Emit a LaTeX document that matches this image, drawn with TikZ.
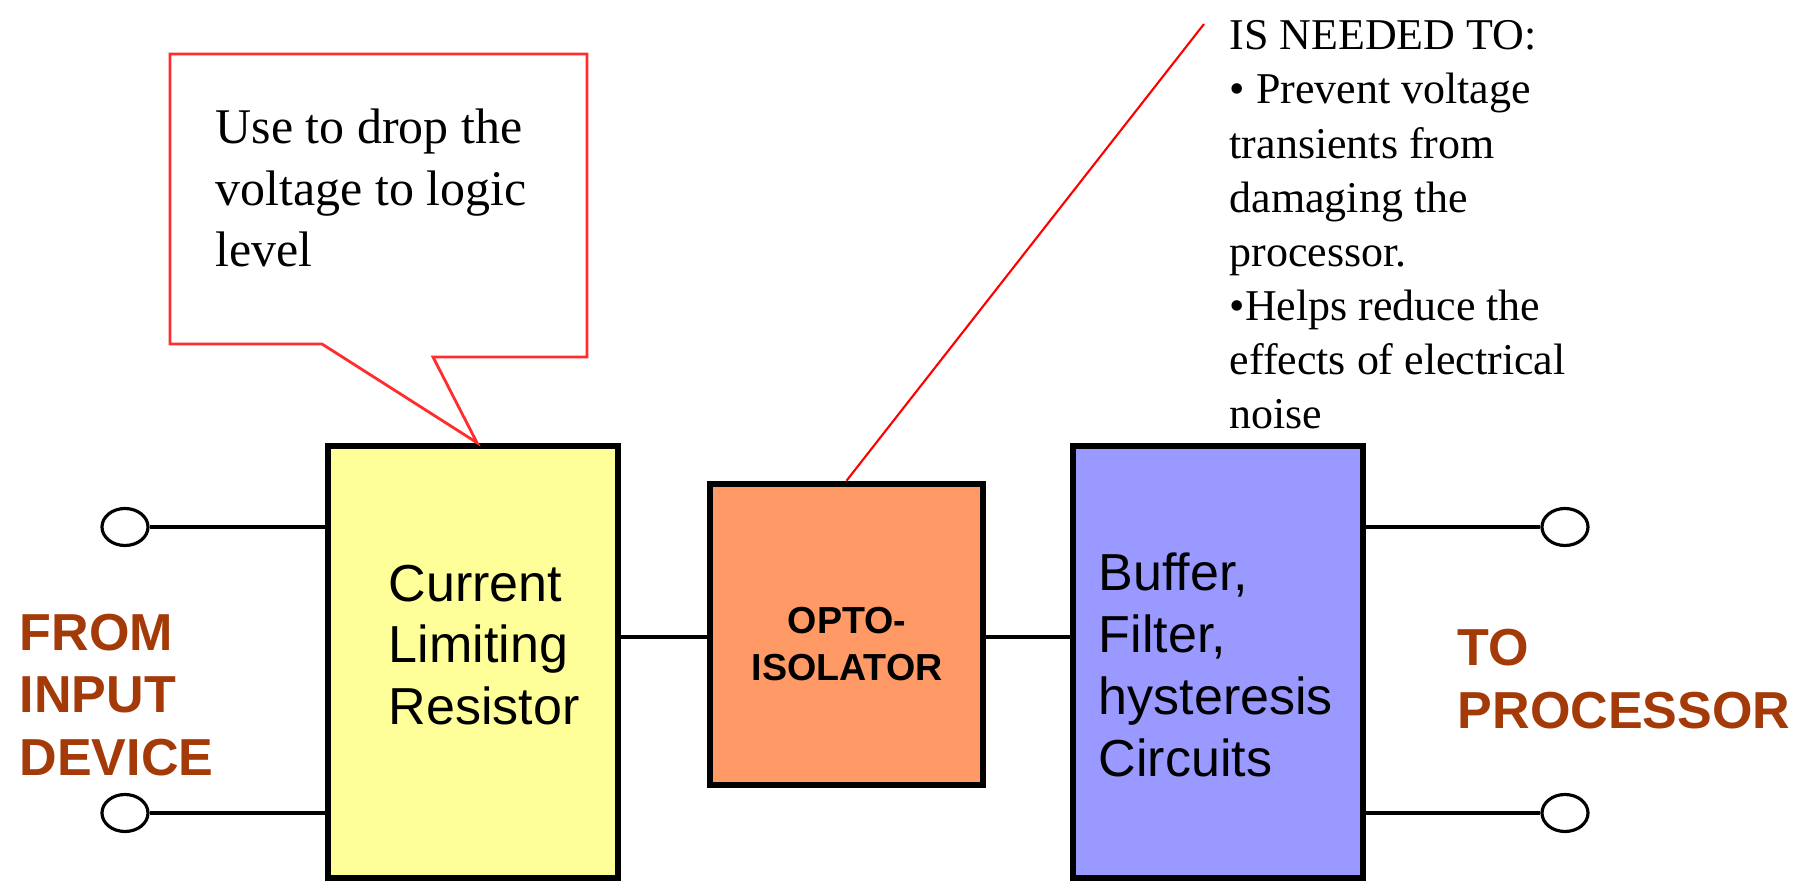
\documentclass[tikz,border=0pt]{standalone}
\usepackage{fontspec}
\setmainfont{Liberation Serif}
\setsansfont{Liberation Sans}
\usetikzlibrary{shapes.geometric,positioning,calc}
\definecolor{BlockYellow}{RGB}{255,255,153}
\definecolor{BlockOrange}{RGB}{255,153,102}
\definecolor{BlockBlue}{RGB}{153,153,255}
\definecolor{LabelBrown}{RGB}{163,58,8}
\definecolor{NoteRed}{RGB}{255,45,45}

\begin{document}
\begin{tikzpicture}[x=0.01cm, y=-0.01cm,
  block/.style={draw=black, line width=1.8pt, inner sep=0pt},
  blocktext/.style={font=\sffamily\fontsize{14.8}{17.6}\selectfont, align=left, inner sep=0pt},
  sidelabel/.style={font=\sffamily\bfseries\fontsize{14.8}{17.8}\selectfont, text=LabelBrown, align=left, inner sep=0pt},
  terminal/.style={draw=black, ellipse, line width=0.9pt, fill=white, minimum width=0.46cm, minimum height=0.37cm, inner sep=0pt},
  wire/.style={line width=1pt},
  note/.style={align=left, inner sep=0pt}]
  \useasboundingbox (0,0) rectangle (1802,882);

  % Blocks
  \node[block, fill=BlockYellow, minimum width=2.9cm, minimum height=4.32cm] (res) at (473,662) {};
  \node[block, fill=BlockOrange, minimum width=2.73cm, minimum height=3.01cm] (opto) at (846.5,634.5) {};
  \node[block, fill=BlockBlue, minimum width=2.9cm, minimum height=4.32cm] (buf) at (1218,662) {};

  \node[blocktext, anchor=west] (restext) at (388,645) {Current\\Limiting\\Resistor};
  \node[blocktext, font=\sffamily\bfseries\fontsize{10.7}{13.4}\selectfont, align=center] (optotext) at (847,644) {OPTO-\\ISOLATOR};
  \node[blocktext, anchor=west] (buftext) at (1098,665) {Buffer,\\Filter,\\hysteresis\\Circuits};

  % Terminals
  \node[terminal] (inA) at (125,527) {};
  \node[terminal] (inB) at (125,813) {};
  \node[terminal] (outA) at (1565,527) {};
  \node[terminal] (outB) at (1565,813) {};

  \draw[wire] (inA) -- (inA -| res.west);
  \draw[wire] (inB) -- (inB -| res.west);
  \draw[wire] (outA) -- (outA -| buf.east);
  \draw[wire] (outB) -- (outB -| buf.east);
  \draw[wire] (opto.west |- 0,637) -- (res.east |- 0,637);
  \draw[wire] (opto.east |- 0,637) -- (buf.west |- 0,637);

  \node[sidelabel, anchor=west] (fromlbl) at (19,695) {FROM\\INPUT\\DEVICE};
  \node[sidelabel, anchor=west] (tolbl) at (1457,679) {TO\\PROCESSOR};

  % Callout on the resistor
  \coordinate (tip) at ($(res.north)+(4,0)$);
  \draw[NoteRed, line width=0.8pt, fill=white] (170,54) -- (587,54) -- (587,357) -- (433,357) -- (tip) -- (322,344) -- (170,344) -- cycle;
  \node[note, font=\fontsize{14.2}{17.6}\selectfont, anchor=west] (dropnote) at (215,188) {Use to drop the\\voltage to logic\\level};

  % Note on the opto-isolator
  \coordinate (noteend) at (1204,24);
  \draw[red, line width=0.6pt] (opto.north) -- (noteend);
  \node[note, font=\fontsize{12.5}{15.4}\selectfont, anchor=west] (isonote) at (1229,225) {IS NEEDED TO:\\\textbullet{} Prevent voltage\\transients from\\damaging the\\processor.\\\textbullet Helps reduce the\\effects of electrical\\noise};
\end{tikzpicture}
\end{document}
